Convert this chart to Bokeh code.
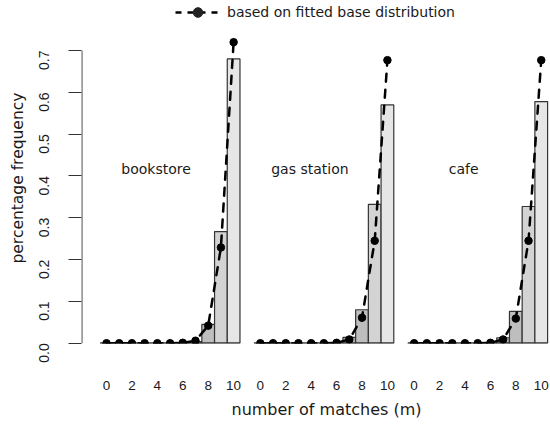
import numpy as np
from bokeh.plotting import figure
from bokeh.models import Range1d, FixedTicker, Legend, LegendItem, Title, ColumnDataSource
from bokeh.core.properties import value
from bokeh.embed import file_html
from bokeh.resources import INLINE

# ---------------- data ----------------
panel_names = ["bookstore", "gas station", "cafe"]
matches = [0, 1, 2, 3, 4, 5, 6, 7, 8, 9, 10]

observed_bookstore = [0, 0, 0, 0, 0, 0, 0, 0.004, 0.045, 0.267, 0.680]
observed_gas_station = [0, 0, 0, 0, 0, 0, 0, 0.014, 0.080, 0.332, 0.570]
observed_cafe = [0, 0, 0, 0, 0, 0, 0, 0.013, 0.076, 0.327, 0.578]

fitted_bookstore = [0, 0, 0, 0, 0, 0, 0.001, 0.006, 0.042, 0.229, 0.720]
fitted_gas_station = [0, 0, 0, 0, 0, 0, 0.001, 0.009, 0.061, 0.245, 0.677]
fitted_cafe = [0, 0, 0, 0, 0, 0, 0.001, 0.009, 0.059, 0.245, 0.677]

x_tick_values = [0, 2, 4, 6, 8, 10]
x_tick_labels = ["0", "2", "4", "6", "8", "10"]
y_tick_values = [0.0, 0.1, 0.2, 0.3, 0.4, 0.5, 0.6, 0.7]
y_tick_labels = ["0.0", "0.1", "0.2", "0.3", "0.4", "0.5", "0.6", "0.7"]

legend_text = "based on fitted base distribution"
x_title = "number of matches (m)"
y_title = "percentage frequency"

# ---------------- style / layout ----------------
bar_fills = ["#4d4d4d", "#5e5e5e", "#6e6e6e", "#7d7d7d", "#8b8b8b", "#989898",
             "#a4a4a4", "#b0b0b0", "#bebebe", "#d3d3d3", "#e6e6e6"]
panel_offsets = [0.0, 12.1, 24.2]
TEXT = "#1a1a1a"
EDGE = "#333333"

observed = [observed_bookstore, observed_gas_station, observed_cafe]
fitted = [fitted_bookstore, fitted_gas_station, fitted_cafe]

W, H = 550, 426
BL, BR, BT, BB = 81, 1, 0, 83
X0 = -1.967
p = figure(width=W, height=H, output_backend="svg", toolbar_location=None,
           x_range=Range1d(X0, 34.85), y_range=Range1d(-0.0007, 0.8197),
           min_border_left=BL, min_border_right=BR, min_border_top=BT,
           min_border_bottom=BB)
p.outline_line_color = None
p.grid.visible = False
p.background_fill_color = "white"

for name, off, obs, fit in zip(panel_names, panel_offsets, observed, fitted):
    xs = [off + m for m in matches]
    src = ColumnDataSource(dict(
        left=[x - 0.5 for x in xs], right=[x + 0.5 for x in xs],
        top=obs, bottom=[0] * len(xs), fill=bar_fills,
    ))
    p.quad(left="left", right="right", top="top", bottom="bottom", source=src,
           fill_color="fill", line_color=EDGE, line_width=1.2)
    p.segment(x0=[off - 0.5], x1=[off + 10.5], y0=[0], y1=[0],
              line_color=EDGE, line_width=1.2)
    p.line(xs, fit, line_color="black", line_width=2.5, line_dash="8 8",
           line_cap="round")
    p.scatter(xs, fit, size=7.5, fill_color="black", line_color="black")
    p.text(x=[off + 3.9], y=[0.4166], text=[name], text_align="center",
           text_baseline="alphabetic", text_font=value("DejaVu Sans"),
           text_font_size="14px", text_color=TEXT)

# y axis line (R style, only across tick range)
p.segment(x0=[X0 + 0.03], x1=[X0 + 0.03], y0=[0], y1=[0.7],
          line_color=EDGE, line_width=1.2)

# x axis
xt = []
xo = {}
for off in panel_offsets:
    for v, lab in zip(x_tick_values, x_tick_labels):
        k = round(off + v, 3)
        xt.append(k)
        xo[k] = lab
p.xaxis.ticker = FixedTicker(ticks=xt)
p.xaxis.major_label_overrides = xo
p.xaxis.axis_line_color = None
p.xaxis.major_tick_line_color = None
p.xaxis.minor_tick_line_color = None
p.xaxis.major_tick_out = 0
p.xaxis.major_tick_in = 0
p.xaxis.major_label_standoff = 37
p.xaxis.major_label_text_font = "Liberation Sans"
p.xaxis.major_label_text_font_size = "13.5px"
p.xaxis.major_label_text_color = TEXT

# y axis
p.yaxis.ticker = FixedTicker(ticks=y_tick_values)
p.yaxis.major_label_overrides = {v: s for v, s in zip(y_tick_values, y_tick_labels)}
p.yaxis.axis_line_color = None
p.yaxis.minor_tick_line_color = None
p.yaxis.major_tick_line_color = EDGE
p.yaxis.major_tick_line_width = 1.2
p.yaxis.major_tick_in = 0
p.yaxis.major_tick_out = 13
p.yaxis.major_label_orientation = np.pi / 2
p.yaxis.major_label_standoff = 24
p.yaxis.major_label_text_font = "Liberation Sans"
p.yaxis.major_label_text_font_size = "14px"
p.yaxis.major_label_text_color = TEXT

# axis titles
p.add_layout(Title(text=x_title, align="left", offset=150,
                   text_font="DejaVu Sans", text_font_size="16px",
                   text_font_style="normal", text_color=TEXT), "below")
p.add_layout(Title(text=y_title, align="left", offset=80,
                   text_font="DejaVu Sans", text_font_size="15.5px",
                   text_font_style="normal", text_color=TEXT), "left")

# legend glyph renderers: placed outside the visible range, only used for the key
hidden_x = [X0 - 20, X0 - 19]
leg_line = p.line(x=hidden_x, y=[0.5, 0.5], line_color="black", line_width=2.5,
                  line_dash="6 6")
leg_pt = p.scatter(x=hidden_x[:1], y=[0.5], size=10, fill_color="#222222",
                   line_color="#222222")
frame_h = H - BT - BB
GH = 24
legend = Legend(items=[LegendItem(label=legend_text, renderers=[leg_line, leg_pt])],
                location=(175 - BL, frame_h - GH), orientation="horizontal",
                glyph_width=45, glyph_height=GH, label_height=GH,
                label_standoff=7, padding=0, margin=0,
                border_line_color=None, background_fill_alpha=0,
                label_text_font="DejaVu Sans", label_text_font_size="14px",
                label_text_color=TEXT)
p.add_layout(legend)

open("out.html", "w").write(file_html(p, INLINE))
